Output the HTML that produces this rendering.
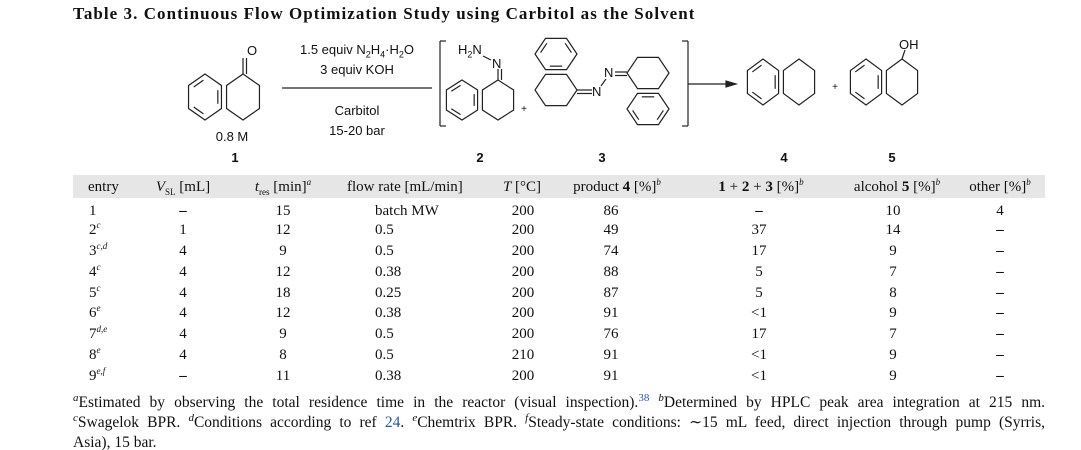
<!DOCTYPE html>
<html><head><meta charset="utf-8">
<style>
body{margin:0;background:#fff;}
#root{position:relative;width:1081px;height:450px;overflow:hidden;font-family:"Liberation Serif",serif;color:#111;}
.t{position:absolute;white-space:nowrap;font-size:15px;line-height:16px;}
.c{transform:translateX(-50%);}
.s{font-family:"Liberation Sans",sans-serif;}
sup{font-size:9px;font-style:italic;vertical-align:6px;line-height:0;}
sub{font-size:9px;line-height:0;}
.fn{position:absolute;left:73px;width:972px;font-size:15.5px;line-height:20.5px;text-align:justify;text-align-last:justify;}
.b{color:#2a56a6}
</style></head><body>
<div id="root">
<div class="t" style="left:73px;top:6px;font-size:17px;letter-spacing:1.05px;font-weight:bold;">Table 3. Continuous Flow Optimization Study using Carbitol as the Solvent</div>

<svg id="scheme" width="1081" height="170" style="position:absolute;left:0;top:0" stroke="#222" stroke-width="1.2" fill="none"></svg>

<div class="t s c" style="left:357px;top:42px;font-size:13px;">1.5 equiv N<sub>2</sub>H<sub>4</sub>·H<sub>2</sub>O</div>
<div class="t s c" style="left:357px;top:62px;font-size:13px;">3 equiv KOH</div>
<div class="t s c" style="left:357px;top:103px;font-size:13px;">Carbitol</div>
<div class="t s c" style="left:357px;top:123px;font-size:13px;">15-20 bar</div>
<div class="t s c" style="left:232px;top:129px;font-size:13px;">0.8 M</div>
<div class="t s c" style="left:252px;top:43px;font-size:13px;">O</div>
<div class="t s" style="left:458px;top:42px;font-size:13px;">H<sub>2</sub>N</div>
<div class="t s" style="left:492px;top:56px;font-size:13px;">N</div>
<div class="t s c" style="left:524px;top:102px;font-size:10px;">+</div>
<div class="t s" style="left:592px;top:84px;font-size:13px;">N</div>
<div class="t s" style="left:604px;top:65px;font-size:13px;">N</div>
<div class="t s c" style="left:835px;top:80px;font-size:10px;">+</div>
<div class="t s" style="left:899px;top:37px;font-size:13px;">OH</div>
<div class="t s c" style="left:235px;top:150px;font-size:13px;font-weight:bold;">1</div>
<div class="t s c" style="left:480px;top:150px;font-size:13px;font-weight:bold;">2</div>
<div class="t s c" style="left:602px;top:150px;font-size:13px;font-weight:bold;">3</div>
<div class="t s c" style="left:784px;top:150px;font-size:13px;font-weight:bold;">4</div>
<div class="t s c" style="left:892px;top:150px;font-size:13px;font-weight:bold;">5</div>

<div style="position:absolute;left:73px;top:175px;width:972px;height:23px;background:#e6e6e6"></div>
<div id="table"></div>

<div class="fn" style="top:393px;"><sup style="font-size:11px">a</sup>Estimated by observing the total residence time in the reactor (visual inspection).<span class="b"><sup style="font-style:normal;font-size:11px">38</sup></span> <sup style="font-size:11px">b</sup>Determined by HPLC peak area integration at 215 nm.</div>
<div class="fn" style="top:413px;"><sup style="font-size:11px">c</sup>Swagelok BPR. <sup style="font-size:11px">d</sup>Conditions according to ref <span class="b">24</span>. <sup style="font-size:11px">e</sup>Chemtrix BPR. <sup style="font-size:11px">f</sup>Steady-state conditions: ∼15 mL feed, direct injection through pump (Syrris,</div>
<div class="fn" style="top:433px;text-align-last:left;">Asia), 15 bar.</div>
</div>
<script>
const entries=['1','2','3','4','5','6','7','8','9'];
const entrySup=['','c','c,d','c','c','e','d,e','e','e,f'];
const vsl=['–','1','4','4','4','4','4','4','–'];
const tres=['15','12','9','12','18','12','9','8','11'];
const flow=['batch MW','0.5','0.5','0.38','0.25','0.38','0.5','0.5','0.38'];
const temp=['200','200','200','200','200','200','200','210','200'];
const prod4=['86','49','74','88','87','91','76','91','91'];
const sm123=['–','37','17','5','5','<1','17','<1','<1'];
const alc5=['10','14','9','7','8','9','7','9','9'];
const other=['4','–','–','–','–','–','–','–','–'];

const tbl=document.getElementById('table');
const rowY=[203,222,243,264,285,305,326,347,368];
function cell(x,y,html,center,name){
  const d=document.createElement('div');
  d.className='t'+(center?' c':'');
  d.style.left=x+'px';d.style.top=y+'px';
  d.innerHTML=html;
  
  
  tbl.appendChild(d);
}
const hy=179;
cell(88,hy,'entry',false,'header-entry');
cell(183,hy,'<i>V</i><sub>SL</sub> [mL]',true,'header-vsl');
cell(283,hy,'<i>t</i><sub>res</sub> [min]<sup>a</sup>',true,'header-tres');
cell(347,hy,'flow rate [mL/min]',false,'header-flow');
cell(522,hy,'<i>T</i> [°C]',true,'header-temp');
cell(617,hy,'product <b>4</b> [%]<sup>b</sup>',true,'header-product4');
cell(761,hy,'<b>1</b> + <b>2</b> + <b>3</b> [%]<sup>b</sup>',true,'header-sm123');
cell(897,hy,'alcohol <b>5</b> [%]<sup>b</sup>',true,'header-alcohol5');
cell(1000,hy,'other [%]<sup>b</sup>',true,'header-other');
function esc(s){return s.replace('<','&lt;');}
for(let i=0;i<entries.length;i++){
  const y=rowY[i];
  cell(89,y,entries[i]+(entrySup[i]?'<sup>'+entrySup[i]+'</sup>':''),false,'entry-'+entries[i]);
  cell(183,y,vsl[i]==='–'?'<b>–</b>':vsl[i],true,'vsl-'+entries[i]);
  cell(283,y,tres[i],true,'tres-'+entries[i]);
  cell(375,y,flow[i],false,'flow-'+entries[i]);
  cell(523,y,temp[i],true,'temp-'+entries[i]);
  cell(611,y,prod4[i],true,'product4-'+entries[i]);
  cell(759,y,sm123[i]==='–'?'<b>–</b>':esc(sm123[i]),true,'sm123-'+entries[i]);
  cell(893,y,alc5[i],true,'alcohol5-'+entries[i]);
  cell(1000,y,other[i]==='–'?'<b>–</b>':other[i],true,'other-'+entries[i]);
}

const svg=document.getElementById('scheme');
const NS='http://www.w3.org/2000/svg';
function line(x1,y1,x2,y2,name){
  const l=document.createElementNS(NS,'line');
  l.setAttribute('x1',x1);l.setAttribute('y1',y1);l.setAttribute('x2',x2);l.setAttribute('y2',y2);
  
  
  svg.appendChild(l);
}
function hexPts(cx,cy,rx,ry,pointy){
  const p=[];
  for(let k=0;k<6;k++){
    const a=(pointy? -90:0)+60*k;
    const r=a*Math.PI/180;
    p.push([cx+rx*Math.cos(r),cy+ry*Math.sin(r)]);
  }
  return p;
}
function inner(cx,cy,p,ks,name){
  ks.forEach(k=>{const a=p[k],b=p[(k+1)%6],f=0.78,t=0.12;const ax=cx+(a[0]-cx)*f,ay=cy+(a[1]-cy)*f,bx=cx+(b[0]-cx)*f,by=cy+(b[1]-cy)*f;line(ax+(bx-ax)*t,ay+(by-ay)*t,bx-(bx-ax)*t,by-(by-ay)*t,name+'-double-bond');});
}
function ring(cx,cy,rx,ry,pointy,arom,name){
  const p=hexPts(cx,cy,rx,ry,pointy);
  const pg=document.createElementNS(NS,'polygon');
  pg.setAttribute('points',p.map(q=>q.join(',')).join(' '));
  
  
  svg.appendChild(pg);
  if(arom){inner(cx,cy,p,[arom,arom+2,arom+4].map(k=>k%6),name);}
  return p;
}
ring(205,97,19,23,true,1,'benzene-1');
ring(243,97,19,23,true,0,'cyclohexane-1');
line(243,74,243,58,'carbonyl-1');line(246.5,74,246.5,58,'carbonyl-1b');
line(282,88,432,88,'reaction-arrow');
line(440,41,440,126,'bracket-left');line(440,41,446,41,'bracket-left-top');line(440,126,446,126,'bracket-left-bottom');
ring(462,100,18,20,true,1,'benzene-2');
ring(498,100,18,20,true,0,'cyclohexane-2');
line(498,80,498,69,'cn-bond-2');line(501.5,80,501.5,69,'cn-bond-2b');
line(483,56,491,60,'nn-bond-2');
ring(556,54,21,18,false,0,'benzene-3a');
inner(556,54,hexPts(556,54,21,18,false),[1,3,5],'benzene-3a');
ring(556,90,21,18,false,0,'cyclohexane-3a');
line(577,90,592,90,'cn-bond-3a');line(577,93.5,592,93.5,'cn-bond-3a-b');
line(601,86,606,79,'nn-bond-3');
line(615,72,627,72,'cn-bond-3b');line(615,75.5,627,75.5,'cn-bond-3b-b');
ring(648,73,21,18,false,0,'cyclohexane-3b');
ring(648,109,21,18,false,0,'benzene-3b');
inner(648,109,hexPts(648,109,21,18,false),[0,2,4],'benzene-3b');
line(688,41,688,126,'bracket-right');line(682,41,688,41,'bracket-right-top');line(682,126,688,126,'bracket-right-bottom');
line(688,84,728,84,'product-arrow');
const ah=document.createElementNS(NS,'polygon');
ah.setAttribute('points','736,84 726,81 726,87');ah.setAttribute('fill','#222');


svg.appendChild(ah);
ring(763,82,18,23,true,1,'benzene-4');
ring(799,82,18,23,true,0,'cyclohexane-4');
ring(866,82,18,23,true,1,'benzene-5');
ring(902,82,18,23,true,0,'cyclohexane-5');
line(902,59,905,50,'co-bond-5');
</script>
</body></html>
